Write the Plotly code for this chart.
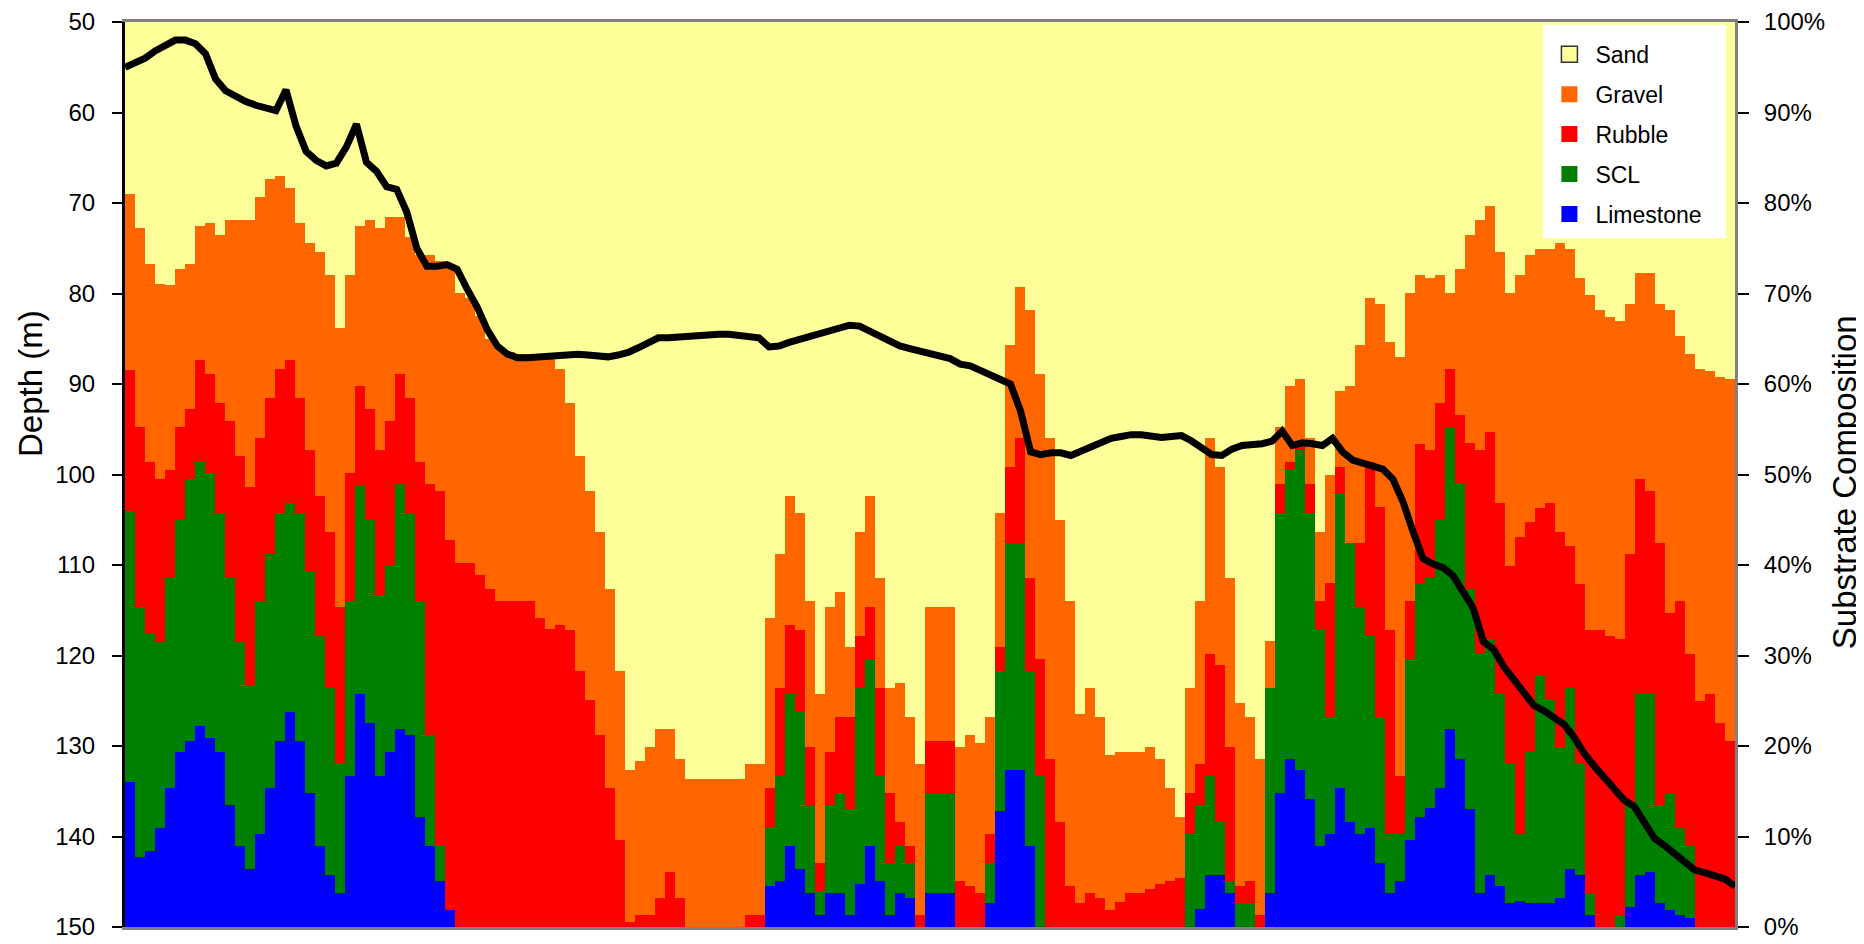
import numpy as np
import plotly.graph_objects as go

# Cumulative top of each substrate band (% of transect segment), read left to right
gravel_top = [81.0,77.2,73.3,71.1,70.9,72.7,73.3,77.5,77.8,76.5,78.1,78.1,78.1,80.7,82.6,83.0,81.7,77.8,75.6,74.6,72.0,66.2,72.0,77.5,78.1,77.2,78.5,
              78.5,76.2,74.3,74.3,73.6,71.4,70.1,69.5,67.5,65.0,64.0,63.5,63.3,63.3,63.3,63.3,61.7,57.9,52.1,48.2,43.7,37.3,28.3,17.4,18.3,19.9,21.9,
              21.9,18.6,16.4,16.4,16.4,16.4,16.4,16.4,18.0,18.0,34.1,41.2,47.6,45.7,36.0,25.7,35.4,37.0,30.9,43.7,47.6,38.6,26.4,27.0,23.2,18.0,35.4,
              35.4,35.4,19.9,21.2,20.3,23.2,45.7,64.3,70.7,68.2,61.1,54.0,45.0,36.0,23.5,26.4,23.2,19.0,19.3,19.3,19.3,19.9,18.6,15.4,12.2,26.4,36.0,
              54.0,50.8,38.6,24.8,23.2,18.6,29.6,55.3,59.8,60.5,54.0,43.7,50.0,59.2,59.8,64.3,69.5,68.8,64.6,63.0,70.1,72.0,71.7,72.0,70.1,72.7,76.5,
              78.1,79.7,74.6,70.1,72.0,74.3,74.9,74.9,75.6,74.9,71.7,69.8,68.2,67.4,67.0,68.8,72.3,72.3,68.8,68.2,65.3,63.3,61.7,61.4,60.8,60.5]

rubble_top = [61.5,55.3,51.4,49.5,50.5,55.3,57.2,62.7,61.1,57.9,55.9,52.1,48.6,54.0,58.5,61.7,62.7,58.5,52.7,47.6,43.7,35.4,50.2,59.8,57.2,52.7,55.9,
              61.1,58.5,51.4,48.9,48.2,41.2,40.2,40.2,38.9,37.3,36.0,36.0,36.0,36.0,34.1,32.9,33.4,32.8,28.3,25.1,21.2,15.4,9.6,0.6,1.3,1.3,3.2,
              6.1,3.2,0,0,0,0,0,0,1.3,1.3,15.4,26.4,33.4,32.8,19.9,7.1,19.3,23.2,23.2,32.2,35.4,26.4,14.8,11.6,9.0,1.3,20.6,
              20.6,20.6,5.1,4.5,3.8,10.3,30.9,50.8,54.0,38.6,29.6,18.6,11.6,4.5,2.6,3.8,3.2,1.9,2.8,3.8,3.8,4.2,4.8,5.1,5.4,14.8,18.0,
              30.2,28.9,19.9,4.5,5.1,1.3,24.4,48.9,51.4,53.4,48.9,36.0,38.0,50.8,42.4,42.4,51.4,46.4,32.8,16.7,36.0,53.4,52.7,57.9,61.7,56.6,53.5,
              52.7,54.7,46.9,39.9,43.1,44.7,46.3,46.9,43.7,42.1,37.9,32.8,32.8,32.2,31.8,41.2,49.5,48.2,42.4,34.7,36.0,30.2,25.0,25.7,22.5,20.6]

scl_top = [46.0,35.4,32.5,31.5,38.6,45.0,49.5,51.4,50.2,45.7,38.6,31.5,26.7,36.0,41.2,45.7,46.9,45.7,39.2,32.2,26.4,18.0,36.0,48.8,45.0,36.7,39.9,
           48.9,45.7,36.0,21.2,9.0,0.3,0,0,0,0,0,0,0,0,0,0,0,0,0,0,0,0,0,0,0,0,0,
           0,0,0,0,0,0,0,0,0,0,10.9,16.7,25.7,23.8,13.5,3.9,13.5,14.8,13.0,26.4,29.6,16.7,7.1,9.0,7.1,0,14.8,
           14.8,14.8,0,0,0,7.1,28.3,42.4,42.4,28.3,16.7,0,0,0,0,0,0,0,0,0,0,0,0,0,0,10.3,13.5,
           16.7,11.6,5.1,2.6,2.6,0,26.4,45.7,50.5,52.7,45.7,32.8,23.2,47.9,42.4,35.4,32.2,23.2,10.3,10.3,29.6,37.9,38.6,45.0,55.3,48.9,37.3,
           30.2,31.8,25.7,18.0,10.3,19.3,27.7,25.1,19.9,26.4,18.0,3.8,0,0,1.3,13.5,25.7,25.7,13.5,14.8,10.9,9.0,0,0,0,0]

limestone_top = [16.0,7.7,8.4,10.9,15.4,19.3,20.6,22.2,20.9,19.3,13.5,9.0,6.4,10.3,15.4,20.6,23.8,20.6,14.8,9.0,5.8,3.8,16.7,25.7,22.5,16.7,19.3,
                 21.9,21.2,12.2,9.0,5.1,1.9,0,0,0,0,0,0,0,0,0,0,0,0,0,0,0,0,0,0,0,0,0,
                 0,0,0,0,0,0,0,0,0,0,4.5,5.1,9.0,6.4,3.8,1.3,3.8,3.8,1.3,4.8,9.0,5.1,1.3,3.8,3.2,0,3.8,
                 3.8,3.8,0,0,0,2.6,12.8,17.4,17.4,9.0,0,0,0,0,0,0,0,0,0,0,0,0,0,0,0,0,2.0,
                 5.8,5.8,3.8,0,0,0,3.8,14.8,18.6,17.4,14.1,9.0,10.3,15.4,11.6,10.3,10.9,7.1,3.8,5.1,9.6,12.2,13.2,15.4,21.9,18.6,13.0,
                 3.8,5.8,4.5,2.6,2.9,2.6,2.6,2.6,3.2,6.4,5.8,1.3,0,0,0,2.2,5.8,6.1,2.6,1.9,1.3,1.0,0,0,0,0]

# Depth along the transect (m)
depth = [55.0,54.6,54.0,53.2,52.5,52.0,52.0,52.4,53.5,56.3,57.6,58.3,58.8,59.2,59.6,59.8,57.5,61.5,64.3,65.3,65.9,65.6,63.8,61.3,65.5,66.5,68.2,
         68.5,71.0,75.0,77.0,77.0,76.8,77.3,79.5,81.5,84.0,85.8,86.7,87.1,87.1,87.0,86.9,86.8,86.7,86.7,86.8,86.9,87.0,86.8,86.5,86.0,85.5,84.9,
         84.9,84.8,84.8,84.7,84.6,84.5,84.5,84.6,84.7,84.9,85.9,85.8,85.4,85.1,84.8,84.4,84.0,83.7,83.5,83.6,84.2,84.8,85.4,85.8,86.1,86.4,86.7,
         86.8,87.2,87.8,88.0,88.5,88.9,89.5,90.0,93.0,97.5,97.8,97.6,97.6,97.9,97.4,96.9,96.5,96.0,95.8,95.6,95.6,95.7,95.9,95.8,95.7,96.3,97.0,
         97.8,97.9,97.2,96.8,96.7,96.6,96.3,95.2,96.8,96.5,96.6,96.8,96.0,97.5,98.4,98.7,99.0,99.4,100.5,103.0,106.3,109.3,109.9,110.3,111.2,113.0,114.8,
         118.5,119.3,121.2,122.6,124.0,125.5,126.1,126.8,127.6,129.0,130.8,132.2,133.5,134.8,136.0,136.7,138.3,140.2,141.0,141.9,143.0,143.7,144.0,144.3,144.7,145.5]

classes = ["Sand", "Gravel", "Rubble", "SCL", "Limestone"]
colors = {"Sand": "#FFFF99", "Gravel": "#FF6600", "Rubble": "#FF0000",
          "SCL": "#008000", "Limestone": "#0000FF"}
pct_ticks = list(range(0, 101, 10))
depth_ticks = list(range(50, 151, 10))

n = len(depth)
sample = np.arange(n)
# depth samples span the transect from its first to its last edge
line_x = np.linspace(-0.5, n - 0.5, n)
gt = np.array(gravel_top); rt = np.array(rubble_top)
st = np.array(scl_top); lt = np.array(limestone_top)
shares = {
    "Limestone": np.clip(lt, 0, None),
    "SCL": np.clip(st - lt, 0, None),
    "Rubble": np.clip(rt - st, 0, None),
    "Gravel": np.clip(gt - rt, 0, None),
    "Sand": np.clip(100 - gt, 0, None),
}

FONT = "Liberation Sans, Arial, sans-serif"
fig = go.Figure()
for name in ["Limestone", "SCL", "Rubble", "Gravel", "Sand"]:
    fig.add_trace(go.Bar(x=sample, y=shares[name], width=1.0, name=name,
                         marker=dict(color=colors[name], line=dict(width=0)),
                         showlegend=False, yaxis="y"))

for name in classes:
    fig.add_trace(go.Scatter(x=[None], y=[None], mode="markers", name=name,
                             legendgroup=name,
                             marker=dict(symbol="square", size=16, color=colors[name],
                                         line=dict(width=1.5 if name == "Sand" else 0,
                                                   color="#333333")),
                             yaxis="y"))

fig.add_trace(go.Scatter(x=line_x, y=depth, mode="lines", name="Depth",
                         line=dict(color="black", width=7), showlegend=False,
                         yaxis="y2"))

fig.update_layout(
    width=1864, height=944,
    margin=dict(l=117, r=137, t=14, b=25),
    barmode="stack", bargap=0,
    plot_bgcolor="white", paper_bgcolor="white",
    font=dict(family=FONT, size=24, color="black"),
    xaxis=dict(range=[-0.5, n - 0.5], showticklabels=False, ticks="",
               showgrid=False, zeroline=False, showline=True, automargin=False,
               linecolor="#808080", linewidth=3, mirror=True),
    yaxis=dict(side="right", range=[0, 100], tickvals=pct_ticks,
               ticktext=[f"{v}%" for v in pct_ticks], ticks="outside",
               ticklen=11, tickwidth=2, tickcolor="black", ticklabelstandoff=10,
               showline=True, linecolor="#808080", linewidth=3, automargin=False,
               showgrid=False, zeroline=False, tickfont=dict(size=24)),
    yaxis2=dict(overlaying="y", side="left", range=[150, 50], tickvals=depth_ticks,
                ticks="outside", ticklen=10, tickwidth=2, tickcolor="black",
                ticklabelstandoff=12, automargin=False,
                showline=True, linecolor="black", linewidth=3,
                showgrid=False, zeroline=False, tickfont=dict(size=24)),
    legend=dict(x=0.881, y=0.988, xanchor="left", yanchor="top",
                bgcolor="rgba(0,0,0,0)", borderwidth=0, font=dict(size=23),
                itemwidth=42, tracegroupgap=7, traceorder="grouped"),
    shapes=[dict(type="rect", xref="paper", yref="paper",
                 x0=0.8807, x1=0.9944, y0=0.7613, y1=0.9967,
                 fillcolor="white", line=dict(width=0), layer="above")],
    annotations=[
        dict(text="Depth (m)", xref="paper", yref="paper", x=-0.059, y=0.60,
             textangle=-90, showarrow=False, font=dict(size=33),
             xanchor="center", yanchor="middle"),
        dict(text="Substrate Composition", xref="paper", yref="paper", x=1.068,
             y=0.492, textangle=-90, showarrow=False, font=dict(size=33),
             xanchor="center", yanchor="middle"),
    ],
)

fig.write_html("out.html")
